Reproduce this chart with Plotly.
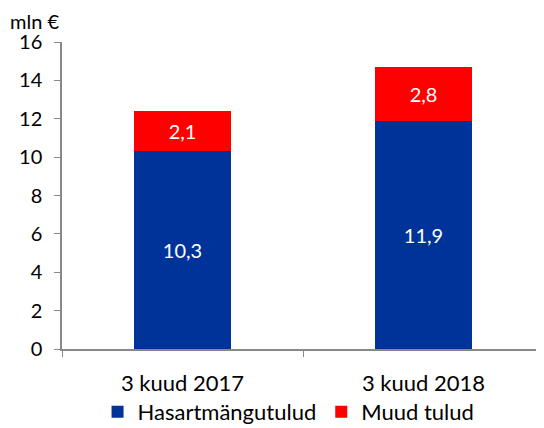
import plotly.graph_objects as go

categories = ['3 kuud 2017', '3 kuud 2018']
hasart = [10.3, 11.9]
muud = [2.1, 2.8]
hasart_lbl = ['10,3', '11,9']
muud_lbl = ['2,1', '2,8']
y_ticks = [0, 2, 4, 6, 8, 10, 12, 14, 16]

fnt = 'Lato, Open Sans, sans-serif'

fig = go.Figure()
fig.add_trace(go.Bar(x=categories, y=hasart, name='Hasartmängutulud',
                     marker=dict(color='#003399', line=dict(width=0)),
                     text=hasart_lbl, textposition='inside', insidetextanchor='middle',
                     textfont=dict(color='white', size=20, family=fnt)))
fig.add_trace(go.Bar(x=categories, y=muud, name='Muud tulud',
                     marker=dict(color='#FF0000', line=dict(width=0)),
                     text=muud_lbl, textposition='inside', insidetextanchor='middle',
                     textfont=dict(color='white', size=20, family=fnt)))

# page body has an 8px margin, so the figure is 8px smaller and margins shifted
fig.update_layout(
    barmode='stack', bargap=0.6,
    width=536, height=420,
    margin=dict(l=54, r=0, t=34, b=79, autoexpand=False),
    plot_bgcolor='white', paper_bgcolor='white',
    font=dict(family=fnt, size=20, color='black'),
    showlegend=True,
    legend=dict(orientation='h', x=0.47, xanchor='center', y=-0.205, yanchor='middle',
                font=dict(size=22), traceorder='normal', bgcolor='rgba(0,0,0,0)'),
    xaxis=dict(showline=True, linecolor='#888888', linewidth=1.5, ticks='outside',
               tickson='boundaries', ticklen=6, tickcolor='#888888',
               ticklabelstandoff=14, automargin=False, tickfont=dict(size=22)),
    yaxis=dict(range=[0, 16], tickvals=y_ticks, showline=True, linecolor='#888888',
               linewidth=1.5, ticks='outside', ticklen=6, tickcolor='#888888',
               ticklabelstandoff=8, automargin=False,
               showgrid=False, zeroline=False, tickfont=dict(size=20)),
    annotations=[dict(text='mln €', xref='paper', yref='paper', x=-0.112, y=1.068,
                      xanchor='left', yanchor='middle', showarrow=False,
                      font=dict(size=20))],
)

fig.write_html("out.html")
